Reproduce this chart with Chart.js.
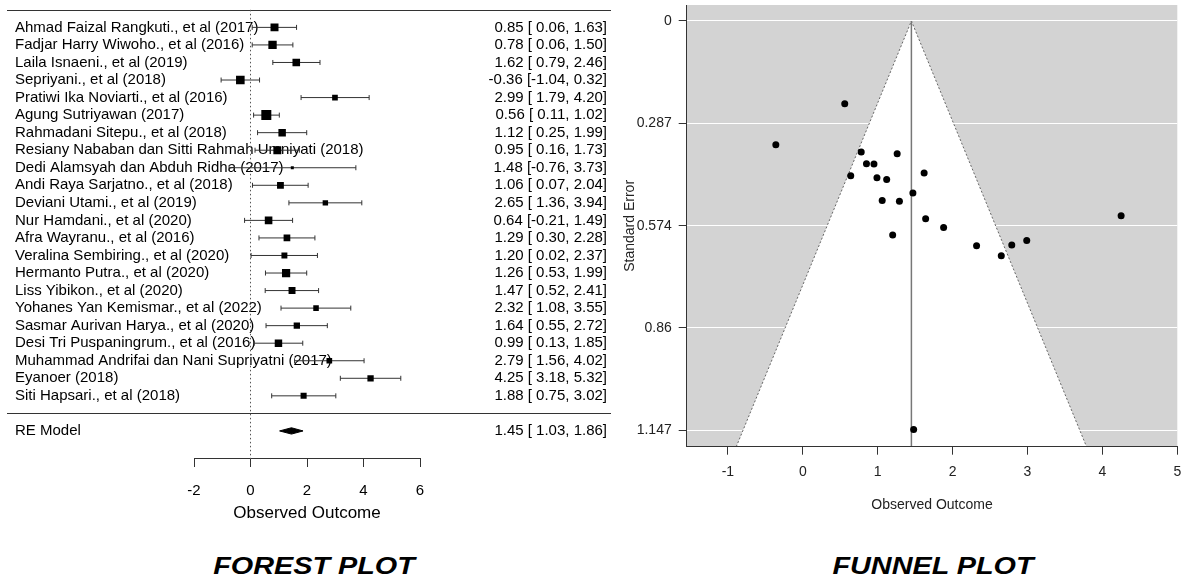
<!DOCTYPE html>
<html>
<head>
<meta charset="utf-8">
<script src="https://cdn.jsdelivr.net/npm/chart.js@4.4.1/dist/chart.umd.min.js"></script>
<style>
  body { margin: 0; background: #fff; width: 1182px; height: 581px; position: relative; overflow: hidden; }
  canvas { position: absolute; top: 0; }
  #forest { left: 0; }
  #funnel { left: 620px; }
  .caption {
    position: absolute; top: 566px;
    font: italic bold 24px "Liberation Sans", Arial, sans-serif;
    transform: translate(-50%, -50%) scaleX(1.2);
    white-space: nowrap; color: #000;
  }
</style>
</head>
<body>
<canvas id="forest" width="620" height="540"></canvas>
<canvas id="funnel" width="562" height="540"></canvas>
<div class="caption" style="left:314px">FOREST PLOT</div>
<div class="caption" style="left:933px">FUNNEL PLOT</div>
<script>
const studies = [
  'Ahmad Faizal Rangkuti., et al (2017)',
  'Fadjar Harry Wiwoho., et al (2016)',
  'Laila Isnaeni., et al (2019)',
  'Sepriyani., et al (2018)',
  'Pratiwi Ika Noviarti., et al (2016)',
  'Agung Sutriyawan (2017)',
  'Rahmadani Sitepu., et al (2018)',
  'Resiany Nababan dan Sitti Rahmah Umniyati (2018)',
  'Dedi Alamsyah dan Abduh Ridha (2017)',
  'Andi Raya Sarjatno., et al (2018)',
  'Deviani Utami., et al (2019)',
  'Nur Hamdani., et al (2020)',
  'Afra Wayranu., et al (2016)',
  'Veralina Sembiring., et al (2020)',
  'Hermanto Putra., et al (2020)',
  'Liss Yibikon., et al (2020)',
  'Yohanes Yan Kemismar., et al (2022)',
  'Sasmar Aurivan Harya., et al (2020)',
  'Desi Tri Puspaningrum., et al (2016)',
  'Muhammad Andrifai dan Nani Supriyatni (2017)',
  'Eyanoer (2018)',
  'Siti Hapsari., et al (2018)'
]
const estimates = [0.85, 0.78, 1.62, -0.36, 2.99, 0.56, 1.12, 0.95, 1.48, 1.06, 2.65, 0.64, 1.29, 1.20, 1.26, 1.47, 2.32, 1.64, 0.99, 2.79, 4.25, 1.88]
const ciLower = [0.06, 0.06, 0.79, -1.04, 1.79, 0.11, 0.25, 0.16, -0.76, 0.07, 1.36, -0.21, 0.30, 0.02, 0.53, 0.52, 1.08, 0.55, 0.13, 1.56, 3.18, 0.75]
const ciUpper = [1.63, 1.50, 2.46, 0.32, 4.20, 1.02, 1.99, 1.73, 3.73, 2.04, 3.94, 1.49, 2.28, 2.37, 1.99, 2.41, 3.55, 2.72, 1.85, 4.02, 5.32, 3.02]
const weights = [5.4, 5.7, 5.1, 5.9, 3.6, 7.0, 5.0, 5.4, 1.5, 4.5, 3.4, 5.1, 4.4, 3.8, 5.6, 4.6, 3.5, 4.1, 5.0, 3.6, 4.1, 3.9]
const stdErrors = [0.400, 0.367, 0.426, 0.347, 0.615, 0.232, 0.444, 0.401, 1.145, 0.503, 0.658, 0.434, 0.505, 0.600, 0.372, 0.482, 0.630, 0.554, 0.439, 0.628, 0.546, 0.579]

const reLabel = 'RE Model'
const reEst = 1.45
const reLower = 1.03
const reUpper = 1.86

const forestTicks = [-2, 0, 2, 4, 6]
const funnelXTicks = [-1, 0, 1, 2, 3, 4, 5]
const seTicks = [0, 0.287, 0.574, 0.86, 1.147]
const seTickLabels = ['0', '0.287', '0.574', '0.86', '1.147']
const seAxisMax = 1.193

Chart.defaults.font.family = '"Liberation Sans", Arial, sans-serif'
Chart.defaults.color = '#000'
Chart.defaults.animation = false

const k = studies.length
const rows = studies.map((s, i) => k - i)   // metafor style: first study on top

function fmt(v) {
    return (v < 0 ? '' : ' ') + v.toFixed(2)
}
function ciText(est, lo, hi) {
    return est.toFixed(2) + ' [' + fmt(lo) + ', ' + hi.toFixed(2) + ']'
}

// ---------- forest plot ----------
const forestText = {
    id: 'forestText',
    beforeDatasetsDraw(chart) {
        const {ctx, scales: {y}} = chart
        ctx.save()
        ctx.font = '15px "Liberation Sans", Arial, sans-serif'
        ctx.fillStyle = '#000'
        ctx.textBaseline = 'middle'
        studies.forEach((name, i) => {
            const py = y.getPixelForValue(rows[i])
            ctx.textAlign = 'left'
            ctx.fillText(name, 15, py)
            ctx.textAlign = 'right'
            ctx.fillText(ciText(estimates[i], ciLower[i], ciUpper[i]), 607, py)
        })
        const pre = y.getPixelForValue(-1)
        ctx.textAlign = 'left'
        ctx.fillText(reLabel, 15, pre)
        ctx.textAlign = 'right'
        ctx.fillText(ciText(reEst, reLower, reUpper), 607, pre)

        // top rule and separator
        ctx.strokeStyle = '#333'
        ctx.lineWidth = 1
        ;[k + 1, 0].forEach(r => {
            const py = Math.round(y.getPixelForValue(r)) + 0.5
            ctx.beginPath()
            ctx.moveTo(7, py)
            ctx.lineTo(611, py)
            ctx.stroke()
        })
        ctx.restore()
    }
}

const ciSets = studies.map((s, i) => ({
    data: [{x: ciLower[i], y: rows[i]}, {x: ciUpper[i], y: rows[i]}],
    borderColor: '#333',
    borderWidth: 1,
    pointRadius: 0,
    order: 3
}))

const capPoints = []
studies.forEach((s, i) => {
    capPoints.push({x: ciLower[i], y: rows[i]}, {x: ciUpper[i], y: rows[i]})
})

const wMin = Math.min(...weights), wMax = Math.max(...weights)
const boxRadius = weights.map(w => (3 + (w - wMin) / (wMax - wMin) * 7) / Math.SQRT2)

const forestYMin = -2.60
const forestYMax = 23.24

new Chart(document.getElementById('forest'), {
    type: 'line',
    data: {
        datasets: [
            {
                // squares
                data: studies.map((s, i) => ({x: estimates[i], y: rows[i]})),
                showLine: false,
                pointStyle: 'rect',
                pointRadius: boxRadius,
                pointBackgroundColor: '#000',
                pointBorderWidth: 0,
                order: 0
            },
            {
                // whisker caps
                data: capPoints,
                showLine: false,
                pointStyle: 'line',
                pointRotation: 90,
                pointRadius: 2.5,
                pointBorderColor: '#333',
                pointBorderWidth: 1,
                order: 1
            },
            {
                // RE model diamond
                data: [
                    {x: reLower, y: -1}, {x: reEst, y: -1 + 0.18},
                    {x: reUpper, y: -1}, {x: reEst, y: -1 - 0.18}, {x: reLower, y: -1}
                ],
                fill: 'shape',
                backgroundColor: '#000',
                borderColor: '#000',
                borderWidth: 1,
                pointRadius: 0,
                order: 2
            },
            {
                // reference line at 0
                data: [{x: 0, y: k + 1}, {x: 0, y: forestYMin}],
                borderColor: '#555',
                borderWidth: 1,
                borderDash: [1.5, 2.5],
                pointRadius: 0,
                order: 4
            },
            ...ciSets
        ]
    },
    options: {
        responsive: false,
        events: [],
        layout: {padding: {left: 194, right: 200, top: 2, bottom: 16}},
        plugins: {legend: {display: false}, tooltip: {enabled: false}},
        scales: {
            x: {
                type: 'linear',
                min: -2,
                max: 6,
                afterBuildTicks: scale => { scale.ticks = forestTicks.map(v => ({value: v})) },
                afterFit: scale => { scale.height = 65 },
                grid: {drawOnChartArea: false, tickLength: 8, color: '#333'},
                border: {color: '#333'},
                ticks: {font: {size: 15}, padding: 15, color: '#000'},
                title: {display: true, text: 'Observed Outcome', font: {size: 17}, padding: 0, color: '#000'}
            },
            y: {
                type: 'linear',
                display: false,
                min: forestYMin,
                max: forestYMax
            }
        }
    },
    plugins: [forestText]
})

// ---------- funnel plot ----------
const funnelBg = {
    id: 'funnelBg',
    beforeDraw(chart) {
        const {ctx, chartArea: a} = chart
        ctx.save()
        ctx.fillStyle = '#d3d3d3'
        ctx.fillRect(a.left, a.top, a.right - a.left, a.bottom - a.top)
        ctx.restore()
    }
}

new Chart(document.getElementById('funnel'), {
    type: 'line',
    data: {
        datasets: [
            {
                data: studies.map((s, i) => ({x: estimates[i], y: stdErrors[i]})),
                showLine: false,
                pointRadius: 3.5,
                pointBackgroundColor: '#000',
                pointBorderWidth: 0,
                order: 0
            },
            {
                data: [{x: reEst, y: 0}, {x: reEst, y: seAxisMax}],
                borderColor: '#777',
                borderWidth: 1.5,
                pointRadius: 0,
                order: 1
            },
            {
                // pseudo confidence region
                data: [
                    {x: reEst - 1.96 * seAxisMax, y: seAxisMax},
                    {x: reEst, y: 0},
                    {x: reEst + 1.96 * seAxisMax, y: seAxisMax}
                ],
                fill: 'shape',
                backgroundColor: '#fff',
                borderColor: '#666',
                borderWidth: 1,
                borderDash: [2, 2],
                pointRadius: 0,
                order: 2
            }
        ]
    },
    options: {
        responsive: false,
        events: [],
        layout: {padding: {left: 0, right: 4.7, top: 5, bottom: 26.1}},
        plugins: {legend: {display: false}, tooltip: {enabled: false}},
        scales: {
            x: {
                type: 'linear',
                min: -1.55,
                max: 5.0,
                afterBuildTicks: scale => { scale.ticks = funnelXTicks.map(v => ({value: v})) },
                afterFit: scale => {
                    scale.height = 67.2
                    scale.paddingLeft = 0
                    scale.paddingRight = 0
                },
                grid: {drawOnChartArea: false, tickLength: 8, color: '#333'},
                border: {color: '#333', z: 1},
                ticks: {font: {size: 14}, padding: 9.4, color: '#222'},
                title: {display: true, text: 'Observed Outcome', font: {size: 14}, padding: 0, color: '#222'}
            },
            y: {
                type: 'linear',
                reverse: true,
                min: -0.0448,
                max: seAxisMax,
                afterBuildTicks: scale => { scale.ticks = seTicks.map(v => ({value: v})) },
                afterFit: scale => {
                    scale.width = 66.7
                    scale.paddingTop = 0
                    scale.paddingBottom = 0
                },
                grid: {color: '#fff', lineWidth: 1, tickColor: '#333', tickLength: 8},
                border: {color: '#333', z: 1},
                ticks: {font: {size: 14}, padding: 7, color: '#222', callback: (v, i) => seTickLabels[i]},
                title: {display: true, text: 'Standard Error', font: {size: 14}, padding: {top: 1.6, bottom: 0}, color: '#222'}
            }
        }
    },
    plugins: [funnelBg]
})
</script>
</body>
</html>
